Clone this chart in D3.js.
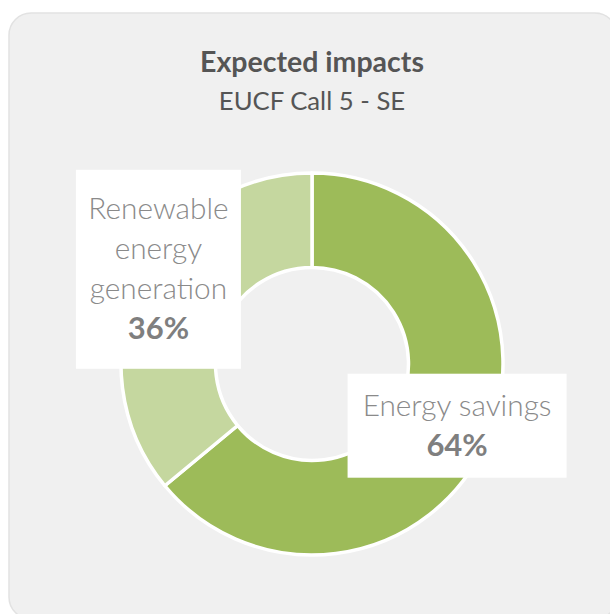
<!DOCTYPE html>
<html>
<head>
<meta charset="utf-8">
<script src="https://cdn.jsdelivr.net/npm/d3@7"></script>
<style>
  html, body { margin: 0; padding: 0; background: #ffffff; }
  svg { display: block; }
</style>
</head>
<body>
<svg id="chart" width="610" height="614"></svg>
<script>
// ---- data ----
const title = "Expected impacts";
const subtitle = "EUCF Call 5 - SE";
const categories = ["Energy savings", "Renewable energy generation"];
const values = [64, 36];
const labelLines = [["Energy savings"], ["Renewable", "energy", "generation"]];
const colors = ["#9dbb59", "#c5d79f"];

// ---- layout ----
const W = 610, H = 614;
const cx = 312, cy = 364;
const outerR = 191, innerR = 96.5;
const fontFamily = "Lato, 'Open Sans', sans-serif";
// label box: offset of box centre from slice centroid, and box size
const labelLayout = [
  { dx: 15, dy: 0.5, w: 219, h: 104 },
  { dx: -23.5, dy: -33.5, w: 165, h: 199 }
];
const lineGap = 40;

const svg = d3.select("#chart");

// card
svg.append("rect")
  .attr("x", 9).attr("y", 13)
  .attr("width", 608).attr("height", 606)
  .attr("rx", 22).attr("ry", 22)
  .attr("fill", "#f0f0f0")
  .attr("stroke", "#e2e2e2")
  .attr("stroke-width", 1.5);

// titles
svg.append("text")
  .attr("x", cx).attr("y", 72)
  .attr("text-anchor", "middle")
  .attr("font-family", fontFamily)
  .attr("font-weight", 700)
  .attr("font-size", 28.5)
  .attr("fill", "#555555")
  .text(title);

svg.append("text")
  .attr("x", cx).attr("y", 110)
  .attr("text-anchor", "middle")
  .attr("font-family", fontFamily)
  .attr("font-weight", 400)
  .attr("font-size", 25.7)
  .attr("fill", "#555555")
  .text(subtitle);

// donut
const data = categories.map((c, i) => ({ name: c, value: values[i], lines: labelLines[i], color: colors[i], layout: labelLayout[i] }));
const pie = d3.pie().value(d => d.value).sort(null);
const arcs = pie(data);
const arc = d3.arc().innerRadius(innerR).outerRadius(outerR);

const g = svg.append("g").attr("transform", `translate(${cx},${cy})`);
g.selectAll("path.slice")
  .data(arcs)
  .join("path")
  .attr("class", "slice")
  .attr("d", arc)
  .attr("fill", d => d.data.color)
  .attr("stroke", "#ffffff")
  .attr("stroke-width", 3.5)
  .attr("stroke-linejoin", "round");

// labels
const fmt = d => Math.round(d.value / d3.sum(values) * 100) + "%";
const lg = g.selectAll("g.label")
  .data(arcs)
  .join("g")
  .attr("class", "label")
  .attr("transform", d => {
    const c = arc.centroid(d);
    return `translate(${c[0] + d.data.layout.dx},${c[1] + d.data.layout.dy})`;
  });

lg.append("rect")
  .attr("x", d => -d.data.layout.w / 2)
  .attr("y", d => -d.data.layout.h / 2)
  .attr("width", d => d.data.layout.w)
  .attr("height", d => d.data.layout.h)
  .attr("fill", "#ffffff");

lg.each(function(d) {
  const sel = d3.select(this);
  const lines = d.data.lines.concat([fmt(d.data)]);
  const n = lines.length;
  lines.forEach((t, i) => {
    const bold = i === n - 1;
    sel.append("text")
      .attr("x", 0)
      .attr("y", (i - (n - 1) / 2) * lineGap + 10)
      .attr("text-anchor", "middle")
      .attr("font-family", fontFamily)
      .attr("font-weight", bold ? 700 : 300)
      .attr("font-size", bold ? 31 : 29.8)
      .attr("fill", bold ? "#7f7f7f" : "#8a8a8a")
      .text(t);
  });
});
</script>
</body>
</html>
